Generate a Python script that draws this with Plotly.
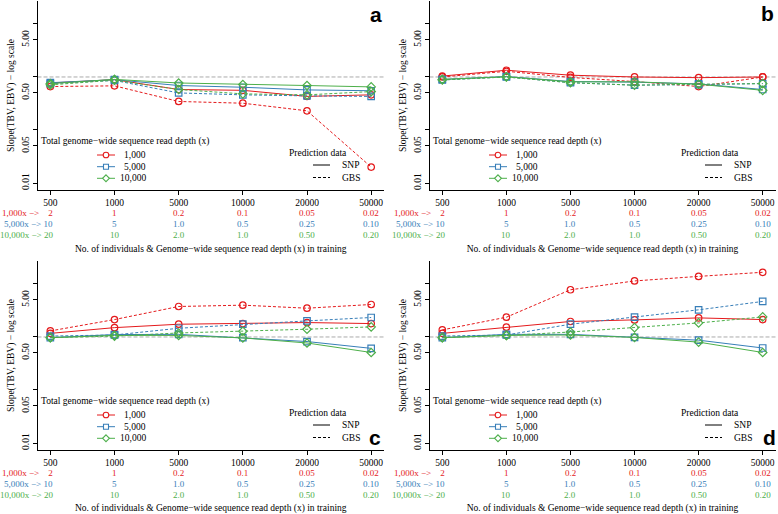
import math
import plotly.graph_objects as go

W, H = 778, 514

# ---------------- data ----------------
categories = ["500", "1000", "5000", "10000", "20000", "50000"]
labels_1000x = ["2", "1", "0.2", "0.1", "0.05", "0.02"]
labels_5000x = ["10", "5", "1.0", "0.5", "0.25", "0.10"]
labels_10000x = ["20", "10", "2.0", "1.0", "0.50", "0.20"]
row_prefixes = ["1,000x −>\u00a0\u00a0\u00a0\u00a0", "5,000x −>\u00a0", "10,000x −>\u00a0"]
depth_names = ["1,000", "5,000", "10,000"]
line_names = ["SNP", "GBS"]
y_tick_vals = [0.01, 0.05, 0.1, 0.5, 1, 5, 10]
y_tick_text = ["0.01", "0.05", "", "0.50", "", "5.00", ""]
panel_letters = ["a", "b", "c", "d"]

# panel a
a_snp_1000 = [0.77, 0.89, 0.58, 0.56, 0.43, 0.46]
a_gbs_1000 = [0.66, 0.68, 0.345, 0.32, 0.23, 0.020]
a_snp_5000 = [0.78, 0.89, 0.69, 0.64, 0.57, 0.55]
a_gbs_5000 = [0.75, 0.86, 0.50, 0.46, 0.44, 0.43]
a_snp_10000 = [0.75, 0.90, 0.77, 0.72, 0.69, 0.65]
a_gbs_10000 = [0.71, 0.87, 0.58, 0.48, 0.46, 0.53]
# panel b
b_snp_1000 = [1.04, 1.34, 1.08, 1.00, 0.97, 1.00]
b_gbs_1000 = [1.00, 1.28, 0.98, 0.82, 0.66, 1.00]
b_snp_5000 = [0.90, 1.02, 0.82, 0.80, 0.74, 0.58]
b_gbs_5000 = [0.88, 1.00, 0.78, 0.70, 0.72, 0.75]
b_snp_10000 = [0.90, 1.01, 0.81, 0.81, 0.73, 0.56]
b_gbs_10000 = [0.88, 1.00, 0.78, 0.70, 0.73, 0.75]
# panel c
c_snp_1000 = [1.17, 1.50, 1.74, 1.79, 1.87, 1.79]
c_gbs_1000 = [1.30, 2.13, 3.76, 3.98, 3.49, 4.10]
c_snp_5000 = [0.97, 1.11, 1.12, 0.97, 0.82, 0.61]
c_gbs_5000 = [1.04, 1.09, 1.46, 1.74, 2.01, 2.33]
c_snp_10000 = [0.97, 1.07, 1.07, 0.96, 0.77, 0.51]
c_gbs_10000 = [0.97, 1.04, 1.19, 1.28, 1.40, 1.55]
# panel d
d_snp_1000 = [1.17, 1.53, 1.96, 2.10, 2.29, 2.13]
d_gbs_1000 = [1.36, 2.36, 7.77, 11.4, 13.9, 16.6]
d_snp_5000 = [0.97, 1.12, 1.12, 0.98, 0.87, 0.62]
d_gbs_5000 = [1.04, 1.09, 1.74, 2.36, 3.25, 4.68]
d_snp_10000 = [0.97, 1.07, 1.09, 0.98, 0.80, 0.51]
d_gbs_10000 = [0.97, 1.07, 1.24, 1.50, 1.84, 2.39]

panels = [
    dict(snp=[a_snp_1000, a_snp_5000, a_snp_10000], gbs=[a_gbs_1000, a_gbs_5000, a_gbs_10000], col=0, row=0),
    dict(snp=[b_snp_1000, b_snp_5000, b_snp_10000], gbs=[b_gbs_1000, b_gbs_5000, b_gbs_10000], col=1, row=0),
    dict(snp=[c_snp_1000, c_snp_5000, c_snp_10000], gbs=[c_gbs_1000, c_gbs_5000, c_gbs_10000], col=0, row=1),
    dict(snp=[d_snp_1000, d_snp_5000, d_snp_10000], gbs=[d_gbs_1000, d_gbs_5000, d_gbs_10000], col=1, row=1),
]
row_labels = [labels_1000x, labels_5000x, labels_10000x]

# ---------------- style ----------------
RED, BLUE, GREEN = "#E41A1C", "#377EB8", "#4DAF4A"
colors = [RED, BLUE, GREEN]
symbols = ["circle-open", "square-open", "diamond-open"]
SERIF = "Liberation Serif"
SANS = "Liberation Sans"
GBS_DASH = "3px,2px"

# panel geometry in pixels
col_x = [(37.5, 384.0), (429.5, 775.5)]
row_y = [(1.0, 190.0), (261.0, 450.0)]
col_dx = [0, 392]
row_dy = [0, 260]

ylo, yhi = 0.01, 20
D = math.log10(yhi) - math.log10(ylo)
y_range = [math.log10(ylo) - 0.04 * D, math.log10(yhi) + 0.04 * D]


def px(x):
    return x / W


def py(y):
    return 1 - y / H


fig = go.Figure()
shapes = []
annotations = []

for i, p in enumerate(panels):
    n = "" if i == 0 else str(i + 1)
    xa, ya = "x" + n, "y" + n
    for k in range(3):
        fig.add_trace(go.Scatter(
            x=categories, y=p["snp"][k], xaxis=xa, yaxis=ya, mode="lines+markers",
            line=dict(color=colors[k], width=1),
            marker=dict(symbol=symbols[k], size=6.5, color=colors[k], line=dict(width=1.2)),
            name=depth_names[k] + " " + line_names[0], showlegend=False))
        fig.add_trace(go.Scatter(
            x=categories, y=p["gbs"][k], xaxis=xa, yaxis=ya, mode="lines+markers",
            line=dict(color=colors[k], width=1, dash=GBS_DASH),
            marker=dict(symbol=symbols[k], size=6.5, color=colors[k], line=dict(width=1.2)),
            name=depth_names[k] + " " + line_names[1], showlegend=False))

    x0, x1 = col_x[p["col"]]
    y0, y1 = row_y[p["row"]]
    common_x = dict(
        type="category", range=[-0.2, 5.2], domain=[px(x0), px(x1)], anchor=ya,
        showline=True, linecolor="black", linewidth=1, mirror=False,
        ticks="outside", ticklen=4, tickcolor="black", showgrid=False, zeroline=False,
        tickfont=dict(family=SERIF, size=9.5, color="black"),
        title=dict(text="No. of individuals & Genome−wide sequence read depth (x) in training",
                   font=dict(family=SERIF, size=9.5, color="black"), standoff=37),
        automargin=False,
    )
    common_y = dict(
        type="log", range=y_range, domain=[py(y1), py(y0)], anchor=xa,
        showline=True, linecolor="black", linewidth=1, mirror=False,
        ticks="outside", ticklen=4, tickcolor="black", showgrid=False, zeroline=False,
        tickvals=y_tick_vals, ticktext=y_tick_text, tickangle=-90,
        tickfont=dict(family=SERIF, size=9.5, color="black"),
        title=dict(text="Slope(TBV, EBV) − log scale",
                   font=dict(family=SERIF, size=9.5, color="black"), standoff=4),
        automargin=False,
    )
    fig.update_layout(**{"xaxis" + n: common_x, "yaxis" + n: common_y})

    # reference line at slope 1
    shapes.append(dict(type="line", xref=xa + " domain", yref=ya, x0=0, x1=1, y0=1, y1=1,
                       line=dict(color="#aaaaaa", width=1, dash="4px,2px"), layer="below"))

    dx, dy = col_dx[p["col"]], row_dy[p["row"]]
    bottom = y1

    # coloured rows under the x axis
    row_off = [22.5, 34, 45]
    for r in range(3):
        for j, lab in enumerate(row_labels[r]):
            if j == 0:
                annotations.append(dict(
                    x=j, xref=xa, y=py(bottom + row_off[r]), yref="paper",
                    text=row_prefixes[r] + lab, showarrow=False, xanchor="right", yanchor="middle",
                    xshift=5, font=dict(family=SERIF, size=9, color=colors[r])))
            else:
                annotations.append(dict(
                    x=j, xref=xa, y=py(bottom + row_off[r]), yref="paper",
                    text=lab, showarrow=False, xanchor="center", yanchor="middle",
                    font=dict(family=SERIF, size=9, color=colors[r])))

    # legend: depth
    annotations.append(dict(
        x=px(39 + dx), y=py(141 + dy), xref="paper", yref="paper",
        text="Total genome−wide sequence read depth (x)", showarrow=False,
        xanchor="left", yanchor="middle", font=dict(family=SERIF, size=9.5, color="black")))
    key_y = [155, 166.7, 178.3]
    for k in range(3):
        yy = key_y[k] + dy
        shapes.append(dict(type="line", xref="paper", yref="paper",
                           x0=px(97 + dx), x1=px(115 + dx), y0=py(yy), y1=py(yy),
                           line=dict(color=colors[k], width=1)))
        cx = 106 + dx
        if k == 0:
            r_ = 2.8
            shapes.append(dict(type="circle", xref="paper", yref="paper",
                               x0=px(cx - r_), x1=px(cx + r_), y0=py(yy - r_), y1=py(yy + r_),
                               line=dict(color=colors[k], width=1.1), fillcolor="white"))
        elif k == 1:
            r_ = 2.5
            shapes.append(dict(type="rect", xref="paper", yref="paper",
                               x0=px(cx - r_), x1=px(cx + r_), y0=py(yy - r_), y1=py(yy + r_),
                               line=dict(color=colors[k], width=1.1), fillcolor="white"))
        else:
            rd = 3.4
            path = "M {},{} L {},{} L {},{} L {},{} Z".format(
                px(cx), py(yy - rd), px(cx + rd), py(yy), px(cx), py(yy + rd), px(cx - rd), py(yy))
            shapes.append(dict(type="path", xref="paper", yref="paper", path=path,
                               line=dict(color=colors[k], width=1.1), fillcolor="white"))
        annotations.append(dict(
            x=px(148 + dx), y=py(yy), xref="paper", yref="paper", text=depth_names[k],
            showarrow=False, xanchor="right", yanchor="middle",
            font=dict(family=SERIF, size=9.5, color="black")))

    # legend: prediction data
    annotations.append(dict(
        x=px(287 + dx), y=py(153 + dy), xref="paper", yref="paper", text="Prediction data",
        showarrow=False, xanchor="left", yanchor="middle",
        font=dict(family=SERIF, size=9.5, color="black")))
    for m, (yy, dash) in enumerate([(165, "solid"), (177.5, GBS_DASH)]):
        shapes.append(dict(type="line", xref="paper", yref="paper",
                           x0=px(313 + dx), x1=px(330 + dx), y0=py(yy + dy), y1=py(yy + dy),
                           line=dict(color="black", width=1, dash=dash)))
        annotations.append(dict(
            x=px(340 + dx), y=py(yy + dy), xref="paper", yref="paper", text=line_names[m],
            showarrow=False, xanchor="left", yanchor="middle",
            font=dict(family=SERIF, size=9.5, color="black")))

# panel letters
letter_pos = [(375.5, 14), (767.5, 13), (375, 437), (769, 437.5)]
for (lx, ly), lt in zip(letter_pos, panel_letters):
    annotations.append(dict(
        x=px(lx), y=py(ly), xref="paper", yref="paper", text="<b>" + lt + "</b>",
        showarrow=False, xanchor="center", yanchor="middle",
        font=dict(family=SANS, size=21, color="black")))

fig.update_layout(
    width=W, height=H, margin=dict(l=0, r=0, t=0, b=0),
    paper_bgcolor="white", plot_bgcolor="white", template="none",
    showlegend=False, shapes=shapes, annotations=annotations,
    font=dict(family=SERIF, size=9.5, color="black"),
)

# remove the browser's default 8px page margin so the 778x514 figure fills the window
fig.write_html("out.html", config={"displayModeBar": False},
               post_script="document.body.style.margin='0';document.body.style.overflow='hidden';")
